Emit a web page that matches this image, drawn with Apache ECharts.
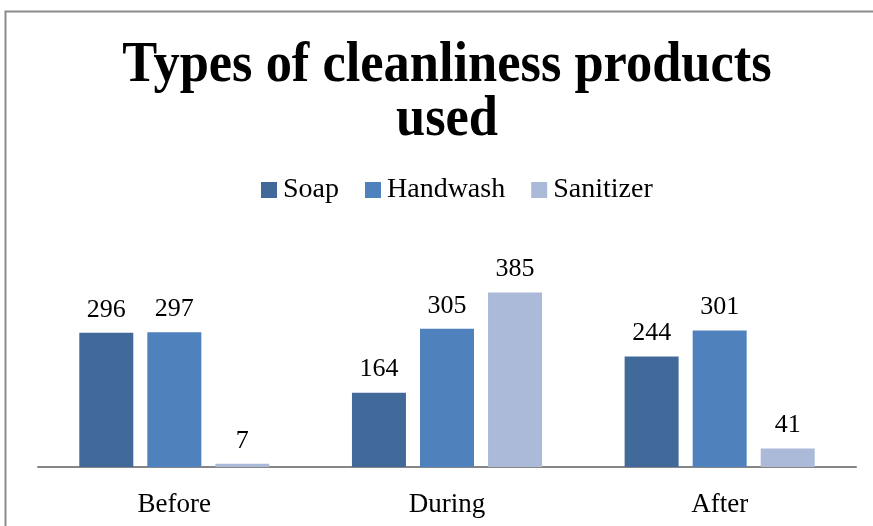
<!DOCTYPE html>
<html><head><meta charset="utf-8">
<script src="https://cdn.jsdelivr.net/npm/echarts@6/dist/echarts.min.js"></script>
<style>html,body{margin:0;padding:0;background:#fff}#c{width:873px;height:526px}</style>
</head><body><div id="c"></div>
<script>
const categories = ['Before', 'During', 'After'];
const seriesNames = ['Soap', 'Handwash', 'Sanitizer'];
const soap = [296, 164, 244];
const handwash = [297, 305, 301];
const sanitizer = [7, 385, 41];
const titleText = 'Types of cleanliness products\nused';
const colors = ['#416a9b', '#4f81bd', '#aabad8'];
const values = [soap, handwash, sanitizer];
const serif = '"Liberation Serif", "DejaVu Serif", serif';

const chart = echarts.init(document.getElementById('c'), null, {renderer: 'canvas'});
chart.setOption({
  animation: false,
  graphic: [{
    type: 'rect', shape: {x: 5.5, y: 11.5, width: 1000, height: 1000},
    style: {fill: 'none', stroke: '#8c8c8c', lineWidth: 2}, z: -1
  }, {
    type: 'text', x: 447, y: 39, scaleX: 0.92, originX: 0, originY: 0,
    style: {
      text: titleText, x: 0, y: 0, align: 'center', verticalAlign: 'alphabetic',
      fontFamily: serif, fontWeight: 'bold', fontSize: 57, lineHeight: 54, fill: '#000'
    }
  }],
  legend: {
    top: 171, left: 256, itemWidth: 16, itemHeight: 16, itemGap: 26,
    icon: 'rect',
    textStyle: {fontFamily: serif, fontSize: 28, color: '#000', padding: [0, 0, 0, 1]},
    data: seriesNames
  },
  grid: {left: 38, right: 17, top: 263, bottom: 59},
  xAxis: {
    type: 'category', data: categories,
    axisLine: {lineStyle: {color: '#868686', width: 2}},
    axisTick: {show: false},
    axisLabel: {fontFamily: serif, fontSize: 27, color: '#000', margin: 24}
  },
  yAxis: {type: 'value', min: 0, max: 450, show: false, splitLine: {show: false}},
  series: seriesNames.map((n, i) => ({
    name: n, type: 'bar', data: values[i], barWidth: 54, barGap: '26%',
    itemStyle: {color: colors[i]},
    label: {show: true, position: 'top', distance: 10, fontFamily: serif, fontSize: 26, color: '#000'}
  }))
});
</script></body></html>
